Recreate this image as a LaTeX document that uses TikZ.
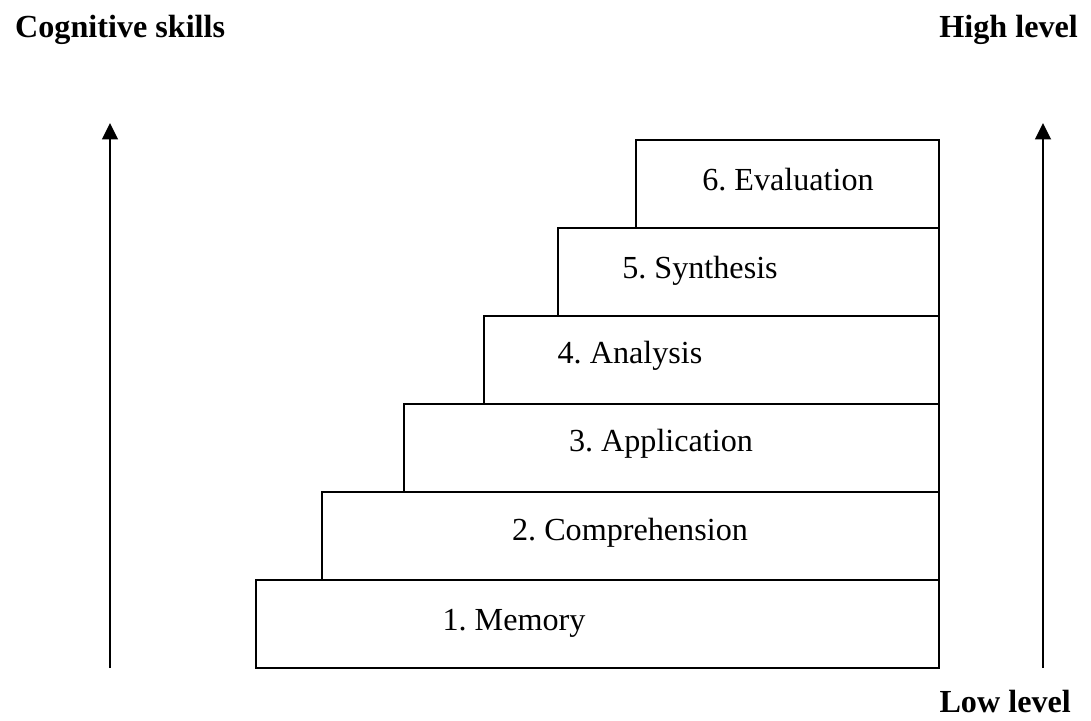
\documentclass[tikz,border=0pt]{standalone}
\usepackage{fontspec}
\setmainfont{Liberation Serif}
\usetikzlibrary{arrows.meta}
\frenchspacing

\begin{document}
\begin{tikzpicture}[x=0.02cm, y=-0.02cm,
    stepline/.style={draw=black, line width=0.8pt},
    levelarrow/.style={line width=1pt, -{Triangle[length=0.33cm, width=0.32cm]}},
    steplabel/.style={anchor=base, font=\fontsize{18.3}{21}\selectfont},
    headlabel/.style={font=\fontsize{18.3}{21}\selectfont\bfseries}]
			% Fix the page size
			\useasboundingbox (0,0) rectangle (1091,720);
			
			% Headings
			\node[headlabel, anchor=base west] (cog) at (9,37) {Cognitive skills};
			\node[headlabel, anchor=base east] (high) at (1084,37) {High level};
			\node[headlabel, anchor=base east] (low) at (1077,712) {Low level};
			
			% Draw the six steps
			\draw[stepline] (256,580) rectangle (939,668);
			\draw[stepline] (322,492) rectangle (939,580);
			\draw[stepline] (404,404) rectangle (939,492);
			\draw[stepline] (484,316) rectangle (939,404);
			\draw[stepline] (558,228) rectangle (939,316);
			\draw[stepline] (636,140) rectangle (939,228);
			
			% Label the steps
			\node[steplabel] (memory) at (514,630) {1. Memory};
			\node[steplabel] (compr) at (630,540) {2. Comprehension};
			\node[steplabel] (appl) at (661,451) {3. Application};
			\node[steplabel] (anal) at (630,363) {4. Analysis};
			\node[steplabel] (synth) at (700,278) {5. Synthesis};
			\node[steplabel] (eval) at (788,190) {6. Evaluation};
			
			% Arrows on both sides
			\coordinate (lbot) at (110,668);
			\coordinate (ltop) at (110,123);
			\coordinate (rbot) at (1043,668);
			\coordinate (rtop) at (1043,123);
			\draw[levelarrow] (lbot) -- (ltop);
			\draw[levelarrow] (rbot) -- (rtop);
		\end{tikzpicture}
\end{document}
